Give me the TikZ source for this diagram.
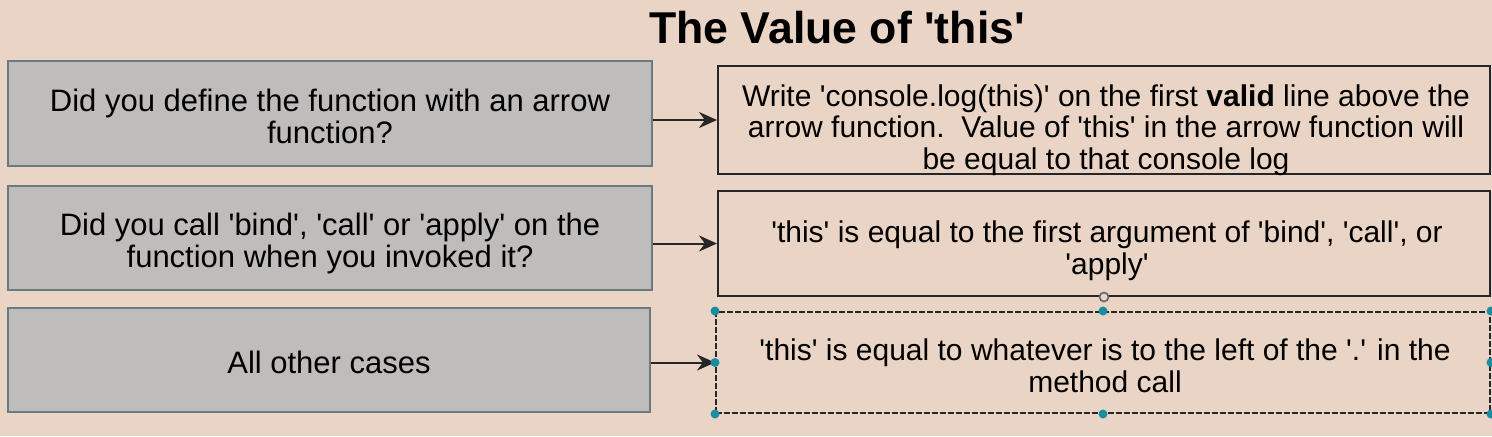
\documentclass[tikz,border=0pt]{standalone}
\usepackage{fontspec}
\setmainfont{Liberation Sans}
\usetikzlibrary{arrows.meta}

\definecolor{paper}{RGB}{234,212,197}
\definecolor{boxgray}{RGB}{191,189,188}
\definecolor{boxline}{RGB}{105,122,128}
\definecolor{handle}{RGB}{28,140,162}

% straight quote
\newcommand{\sq}{\textquotesingle}

\tikzset{
    box/.style={draw=boxline, fill=boxgray, line width=1pt},
    outbox/.style={draw=black!85, line width=1pt},
    qtext/.style={align=center, font=\fontsize{15.5}{16}\selectfont},
    atext/.style={align=center, font=\fontsize{15}{15.8}\selectfont},
    link/.style={-{Stealth[length=9pt,width=8pt]}, line width=1pt, black!85}
}

\begin{document}
\begin{tikzpicture}[x=0.5pt,y=-0.5pt]
    % Background
    \fill[paper] (0,0) rectangle (1492,436);
    \useasboundingbox (0,0) rectangle (1492,436);

    % Title
    \node[font=\fontsize{22.3}{26}\selectfont\bfseries] (title) at (837,28) {The Value of \sq this\sq};

    % Questions on the left
    \node[box, minimum width=322pt, minimum height=52.5pt] (q-arrow) at (330,113.5) {};
    \node[box, minimum width=322pt, minimum height=52pt] (q-bind) at (330,238) {};
    \node[box, minimum width=321pt, minimum height=52pt] (q-other) at (329,360) {};

    \node[qtext] (q-arrow-text) at (330,116)
        {Did you define the function with an arrow\\function?};
    \node[qtext] (q-bind-text) at (330,243)
        {Did you call \sq bind\sq, \sq call\sq{} or \sq apply\sq{} on the\\function when you invoked it?};
    \node[qtext] (q-other-text) at (329,362) {All other cases};

    % Answers on the right
    \node[outbox, minimum width=386pt, minimum height=54pt] (a-arrow) at (1104,120) {};
    \node[outbox, minimum width=386pt, minimum height=52.5pt] (a-bind) at (1104,243.5) {};
    \node[outbox, dash pattern=on 3pt off 1pt, minimum width=387pt, minimum height=50.5pt] (a-other) at (1103,362.5) {};

    \node[atext] (a-arrow-text) at (1106,130)
        {Write \sq console.log(this)\sq{} on the first \textbf{valid} line above the\\arrow function.\ \ Value of \sq this\sq{} in the arrow function will\\be equal to that console log};
    \node[atext] (a-bind-text) at (1107,251)
        {\sq this\sq{} is equal to the first argument of \sq bind\sq, \sq call\sq, or\\\sq apply\sq};
    \node[atext] (a-other-text) at (1105,366)
        {\sq this\sq{} is equal to whatever is to the left of the \sq.\sq{} in the\\method call};

    % Arrows
    \draw[link] (q-arrow.east |- a-arrow.west) -- (a-arrow.west);
    \draw[link] (q-bind.east |- a-bind.west) -- (a-bind.west);
    \draw[link] (q-other.east |- a-other.west) -- (a-other.west);

    % Selection handles
    \draw[black!60, fill=paper, line width=0.8pt] (a-bind.south) circle (4.5);
    \foreach \p in {north west, west, south west, north, south, north east, east, south east}
        \fill[handle] (a-other.\p) circle (4.5);
\end{tikzpicture}
\end{document}
